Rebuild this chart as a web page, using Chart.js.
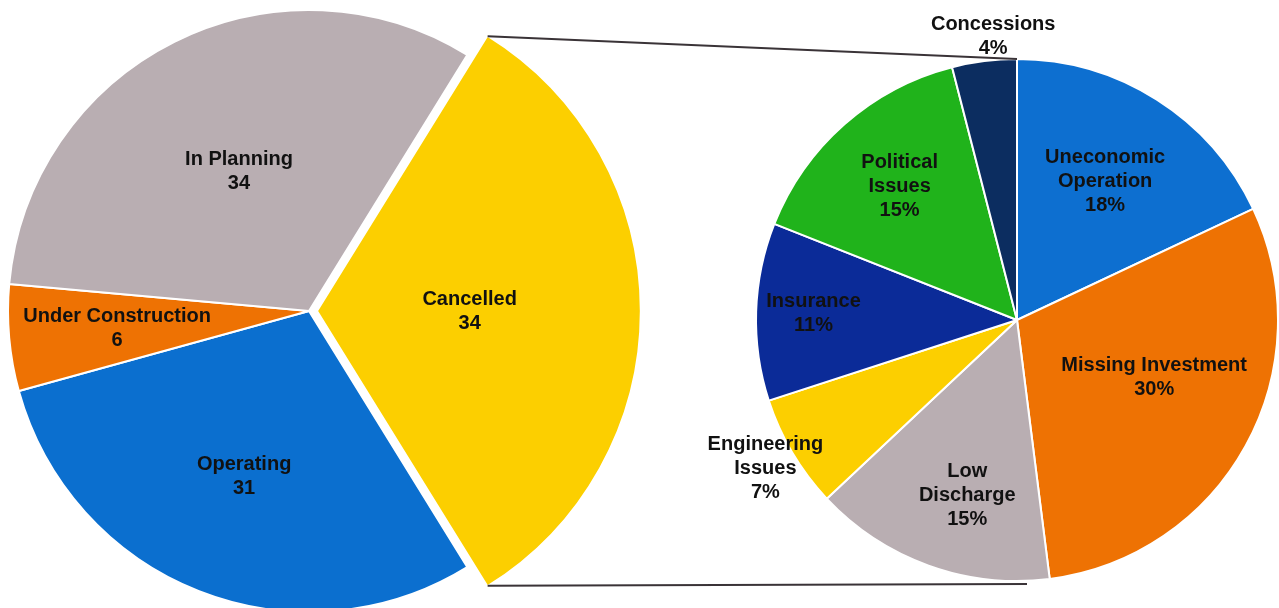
<!DOCTYPE html>
<html>
<head>
<meta charset="utf-8">
<script src="https://cdn.jsdelivr.net/npm/chart.js@4.4.1/dist/chart.umd.min.js"></script>
<style>
  html, body { margin: 0; padding: 0; background: #fff; overflow: hidden; }
  #wrap { position: relative; width: 1279px; height: 608px; }
  #wrap canvas { position: absolute; left: 0; top: 0; }
</style>
</head>
<body>
<div id="wrap">
  <canvas id="statusChart" width="1279" height="608"></canvas>
  <canvas id="reasonChart" width="1279" height="608"></canvas>
</div>
<script>
// Estado dos projetos (pizza da esquerda)
const statusLabels = [["Cancelled"], ["Operating"], ["Under Construction"], ["In Planning"]];
const statusValues = [34, 31, 6, 34];
const statusColors = ["#fccf00", "#0b6fcf", "#ee7203", "#b9aeb2"];

// Motivos de cancelamento (pizza da direita, %)
const reasonLabels = [["Uneconomic", "Operation"], ["Missing Investment"], ["Low", "Discharge"],
  ["Engineering", "Issues"], ["Insurance"], ["Political", "Issues"], ["Concessions"]];
const reasonValues = [18, 30, 15, 7, 11, 15, 4];
const reasonColors = ["#0d6fd0", "#ee7203", "#b9aeb2", "#fccf00", "#0b2b98", "#20b31b", "#0c2d60"];

// Posição dos rótulos: fração do raio e desvio angular (graus) a partir do ângulo médio
const statusLabelPos = [0.47, 0.59, 0.64, 0.52];
const statusLabelTurn = [0, 0, 0, 0];
const reasonLabelPos = [0.63, 0.57, 0.70, 1.12, 0.78, 0.68, 1.09];
const reasonLabelTurn = [0, -6, -4, 0, 0, 0, 2.4];

const statusText = statusLabels.map((l, i) => [...l, String(statusValues[i])]);
const reasonText = reasonLabels.map((l, i) => [...l, reasonValues[i] + "%"]);

const statusTotal = statusValues.reduce((a, b) => a + b, 0);

// Deslocamento real que o Chart.js aplica a uma fatia com "offset"
function arcShift(arc) {
  const off = (arc.options.offset || 0) / 4;
  const circ = arc.endAngle - arc.startAngle;
  const fix = 1 - Math.sin(Math.min(Math.PI, circ));
  const mid = (arc.startAngle + arc.endAngle) / 2;
  return { x: arc.x + Math.cos(mid) * off * (1 + fix), y: arc.y + Math.sin(mid) * off * (1 + fix), mid };
}

// Rótulos das fatias
const sliceLabels = {
  id: "sliceLabels",
  afterDatasetsDraw(chart, args, opts) {
    const ctx = chart.ctx;
    const meta = chart.getDatasetMeta(0);
    ctx.save();
    ctx.font = "bold 20px 'Liberation Sans', Arial, sans-serif";
    ctx.fillStyle = "#111";
    ctx.textAlign = "center";
    ctx.textBaseline = "middle";
    meta.data.forEach((arc, i) => {
      const c = arcShift(arc);
      const ang = c.mid + opts.turn[i] * Math.PI / 180;
      const d = arc.outerRadius * opts.pos[i];
      const px = c.x + Math.cos(ang) * d;
      const py = c.y + Math.sin(ang) * d;
      const lines = opts.text[i];
      lines.forEach((t, k) => {
        ctx.fillText(t, px, py + (k - (lines.length - 1) / 2) * 24);
      });
    });
    ctx.restore();
  }
};

// Fatia "Cancelled" um pouco maior que as outras
const growFirst = {
  id: "growFirst",
  afterDatasetUpdate(chart, args, opts) {
    if (!opts.factor) return;
    const arc = args.meta.data[0];
    arc.outerRadius = arc.outerRadius * opts.factor;
  }
};

const statusChart = new Chart(document.getElementById("statusChart"), {
  type: "pie",
  data: {
    labels: statusLabels,
    datasets: [{
      data: statusValues,
      backgroundColor: statusColors,
      borderColor: "#fff",
      borderWidth: 2,
      offset: [32, 0, 0, 0]
    }]
  },
  options: {
    responsive: false,
    devicePixelRatio: 1,
    animation: false,
    rotation: 90 - statusValues[0] / statusTotal * 180,
    radius: 301,
    layout: { padding: { left: 0, right: 661, top: 14, bottom: 0 } },
    plugins: {
      legend: { display: false },
      tooltip: { enabled: false },
      sliceLabels: { pos: statusLabelPos, turn: statusLabelTurn, text: statusText },
      growFirst: { factor: 1.073 }
    }
  },
  plugins: [growFirst, sliceLabels]
});

// Linhas de ligação entre as duas pizzas
const connectors = {
  id: "connectors",
  afterDraw(chart) {
    const src = statusChart.getDatasetMeta(0).data[0];
    const tgt = chart.getDatasetMeta(0).data[0];
    const c = arcShift(src);
    const R = src.outerRadius;
    const ctx = chart.ctx;
    ctx.save();
    ctx.strokeStyle = "#3a3337";
    ctx.lineWidth = 2;
    ctx.beginPath();
    ctx.moveTo(c.x + Math.cos(src.startAngle) * R, c.y + Math.sin(src.startAngle) * R);
    ctx.lineTo(tgt.x, tgt.y - tgt.outerRadius);
    ctx.moveTo(c.x + Math.cos(src.endAngle) * R, c.y + Math.sin(src.endAngle) * R);
    ctx.lineTo(tgt.x + 10, tgt.y + tgt.outerRadius + 3);
    ctx.stroke();
    ctx.restore();
  }
};

const reasonChart = new Chart(document.getElementById("reasonChart"), {
  type: "pie",
  data: {
    labels: reasonLabels,
    datasets: [{
      data: reasonValues,
      backgroundColor: reasonColors,
      borderColor: "#fff",
      borderWidth: 2
    }]
  },
  options: {
    responsive: false,
    devicePixelRatio: 1,
    animation: false,
    radius: 261,
    layout: { padding: { left: 755, right: 0, top: 32, bottom: 0 } },
    plugins: {
      legend: { display: false },
      tooltip: { enabled: false },
      sliceLabels: { pos: reasonLabelPos, turn: reasonLabelTurn, text: reasonText }
    }
  },
  plugins: [sliceLabels, connectors]
});
</script>
</body>
</html>
